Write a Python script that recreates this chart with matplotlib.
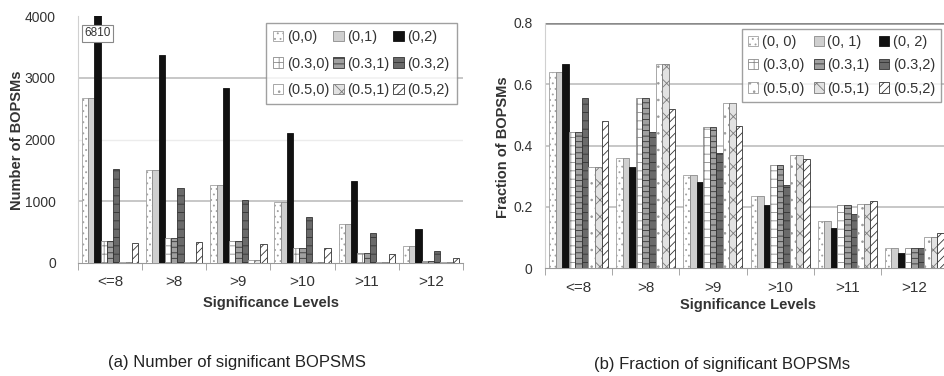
import numpy as np
import matplotlib
matplotlib.use("Agg")
import matplotlib.pyplot as plt

plt.rcParams['font.family'] = ['Liberation Sans', 'DejaVu Sans']
plt.rcParams['hatch.linewidth'] = 0.6

levels = ['<=8', '>8', '>9', '>10', '>11', '>12']
series_a = ['(0,0)', '(0,1)', '(0,2)', '(0.3,0)', '(0.3,1)', '(0.3,2)',
            '(0.5,0)', '(0.5,1)', '(0.5,2)']
series_b = ['(0, 0)', '(0, 1)', '(0, 2)', '(0.3,0)', '(0.3,1)', '(0.3,2)',
            '(0.5,0)', '(0.5,1)', '(0.5,2)']

# counts per series, one value per significance level
counts = [
    [2680, 1500, 1270, 990, 630, 280],
    [2680, 1500, 1270, 990, 630, 280],
    [6810, 3370, 2840, 2110, 1330, 550],
    [350, 400, 350, 250, 160, 40],
    [350, 400, 350, 250, 160, 40],
    [1530, 1220, 1020, 740, 480, 190],
    [20, 10, 50, 20, 10, 10],
    [20, 10, 50, 20, 10, 10],
    [320, 340, 300, 240, 150, 80],
]

fractions = [
    [0.64, 0.36, 0.305, 0.235, 0.155, 0.065],
    [0.64, 0.36, 0.305, 0.235, 0.155, 0.065],
    [0.665, 0.33, 0.28, 0.205, 0.13, 0.05],
    [0.445, 0.555, 0.46, 0.335, 0.205, 0.065],
    [0.445, 0.555, 0.46, 0.335, 0.205, 0.065],
    [0.555, 0.445, 0.375, 0.27, 0.175, 0.065],
    [0.33, 0.665, 0.54, 0.37, 0.21, 0.10],
    [0.33, 0.665, 0.54, 0.37, 0.21, 0.10],
    [0.48, 0.52, 0.465, 0.355, 0.22, 0.115],
]

styles = [
    dict(facecolor='white', edgecolor='#a0a0a0', hatch='...'),
    dict(facecolor='#cfcfcf', edgecolor='#8a8a8a', hatch=''),
    dict(facecolor='#111111', edgecolor='#111111', hatch=''),
    dict(facecolor='white', edgecolor='#8a8a8a', hatch='++'),
    dict(facecolor='#a0a0a0', edgecolor='#333333', hatch='---'),
    dict(facecolor='#6a6a6a', edgecolor='#333333', hatch='--'),
    dict(facecolor='white', edgecolor='#9a9a9a', hatch='..'),
    dict(facecolor='#e2e2e2', edgecolor='#7a7a7a', hatch='xx'),
    dict(facecolor='white', edgecolor='#333333', hatch='////'),
]

TXT = '#333333'
W, H = 945, 376
fig = plt.figure(figsize=(W / 100, H / 100), dpi=100)

ax1 = fig.add_axes([78 / W, 1 - 263 / H, 385 / W, 247 / H])
ax2 = fig.add_axes([545 / W, 1 - 268 / H, 403 / W, 245 / H])

bw = 0.0975
x0 = np.arange(len(levels)) + 0.5 - 4 * bw


def draw(ax, data, labels, ylim, yticks, yfmt):
    handles = []
    for i, vals in enumerate(data):
        b = ax.bar(x0 + i * bw, vals, bw, linewidth=0.6, zorder=3, **styles[i])
        handles.append(b)
    ax.set_xlim(0, len(levels))
    ax.set_ylim(*ylim)
    ax.set_yticks(yticks)
    ax.set_yticklabels([yfmt(v) for v in yticks], color=TXT, fontsize=10)
    ax.set_xticks(np.arange(len(levels)) + 0.5)
    ax.set_xticklabels(levels, color=TXT, fontsize=11)
    ax.set_xticks(np.arange(len(levels) + 1), minor=True)
    ax.tick_params(axis='x', which='major', length=0, pad=9)
    ax.tick_params(axis='x', which='minor', length=5, color='#999999', direction='out')
    ax.tick_params(axis='y', length=0)
    for s in ['top', 'right']:
        ax.spines[s].set_visible(False)
    ax.spines['bottom'].set_color('#999999')
    ax.spines['left'].set_color('#d0d0d0')
    order = [0, 3, 6, 1, 4, 7, 2, 5, 8]
    return [handles[k] for k in order], [labels[k] for k in order]


# (a) counts
h, l = draw(ax1, counts, series_a, (0, 4000), [0, 1000, 2000, 3000, 4000],
            lambda v: f'{v:d}')
for v in [1000, 3000]:
    ax1.axhline(v, color='#bdbdbd', lw=1.2, zorder=1)
ax1.axhline(2000, color='#ececec', lw=1, zorder=1)
ax1.tick_params(axis='y', pad=16)
ax1.legend(h, l, loc='upper left', bbox_to_anchor=(0.488, 0.628, 0.496, 0.344),
           mode='expand', ncol=3, fontsize=10.5, frameon=True, fancybox=False,
           edgecolor='#888888', handlelength=0.7, handleheight=0.7,
           handletextpad=0.25, columnspacing=0.6, labelspacing=0.85,
           borderpad=0.5, labelcolor=TXT, borderaxespad=0)
# value label for the clipped bar
top = ax1.get_ylim()[1]
for i, vals in enumerate(counts):
    for j, v in enumerate(vals):
        if v > top:
            ax1.text(x0[j] + i * bw, 3720, f'{v}', ha='center', va='center',
                     fontsize=8.5, color=TXT, zorder=5,
                     bbox=dict(boxstyle='square,pad=0.2', fc='white', ec='#888888', lw=0.8))

# (b) fractions
h, l = draw(ax2, fractions, series_b, (0, 0.8), [0, 0.2, 0.4, 0.6, 0.8],
            lambda v: '0' if v == 0 else f'{v:.1f}')
for v in [0.2, 0.4, 0.6]:
    ax2.axhline(v, color='#bdbdbd', lw=1.2, zorder=1)
ax2.axhline(0.8, color='#8a8a8a', lw=1.8, zorder=1)
ax2.tick_params(axis='y', pad=9)
ax2.legend(h, l, loc='upper left', bbox_to_anchor=(0.489, 0.665, 0.494, 0.311),
           mode='expand', ncol=3, fontsize=10.5, frameon=True, fancybox=False,
           edgecolor='#888888', handlelength=0.7, handleheight=0.7,
           handletextpad=0.25, columnspacing=0.6, labelspacing=0.65,
           borderpad=0.4, labelcolor=TXT, borderaxespad=0)

# axis titles and captions
fig.text(271 / W, 1 - 303 / H, 'Significance Levels', ha='center', va='center',
         fontsize=10.5, fontweight='bold', color=TXT)
fig.text(748 / W, 1 - 305 / H, 'Significance Levels', ha='center', va='center',
         fontsize=10.5, fontweight='bold', color=TXT)
fig.text(17 / W, 1 - 140 / H, 'Number of BOPSMs', rotation=90, ha='center',
         va='center', fontsize=10.5, fontweight='bold', color=TXT)
fig.text(503 / W, 1 - 147 / H, 'Fraction of BOPSMs', rotation=90, ha='center',
         va='center', fontsize=10.5, fontweight='bold', color=TXT)
cap = dict(ha='center', va='center', fontsize=12, color='#222222')
fig.text(237 / W, 1 - 363 / H, '(a) Number of significant BOPSMS', **cap)
fig.text(722 / W, 1 - 365 / H, '(b) Fraction of significant BOPSMs', **cap)

fig.savefig('out.png', dpi=100)
